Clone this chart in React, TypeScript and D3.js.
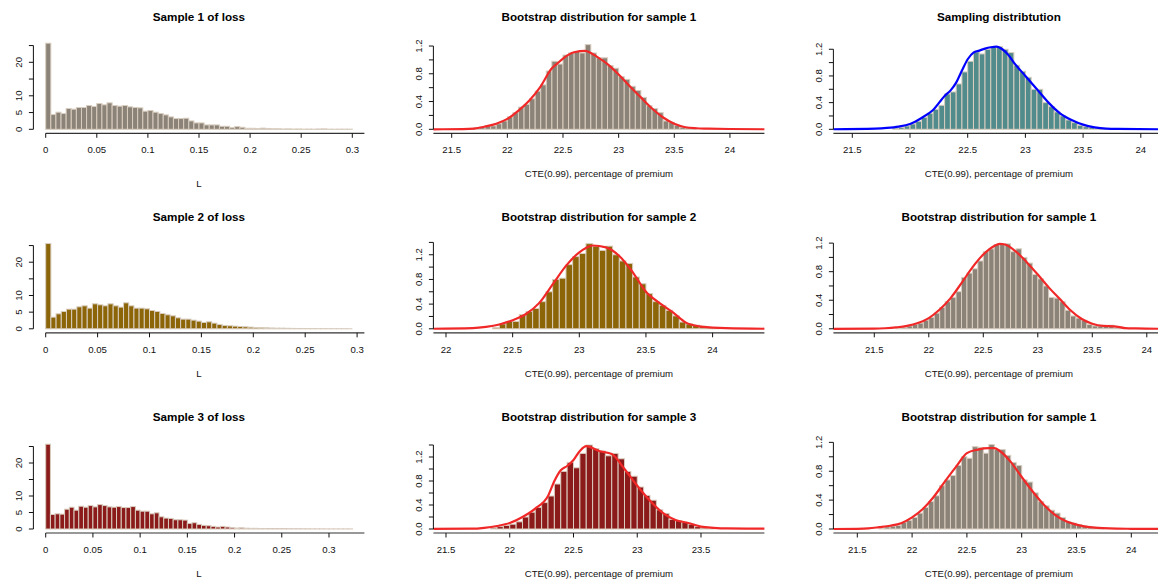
import React from "react";
import * as d3 from "d3";

// ---------- data ----------
// Loss samples: density per bin of width 0.005 starting at 0
const lossBinWidth = 0.005;
const lossSample1 = [
  25.7, 4.4, 5.1, 4.7, 6.2, 6.0, 6.5, 6.5, 7.1, 6.8,
  7.7, 7.3, 7.9, 7.1, 6.9, 7.1, 6.7, 6.5, 6.4, 5.4,
  5.6, 5.1, 4.7, 4.3, 3.7, 3.2, 3.2, 3.3, 2.5, 1.9,
  1.9, 1.3, 1.3, 1.3, 0.9, 0.9, 0.5, 0.8, 0.6, 0.3,
  0.3, 0.2, 0.35, 0.25, 0.15, 0.15, 0.1, 0.12, 0.08, 0.1,
  0.06, 0.08, 0.05, 0.1, 0.12, 0.05, 0.04, 0.06, 0.05, 0.05,
];
const lossSample2 = [
  25.6, 3.5, 4.5, 5.2, 5.9, 5.9, 6.6, 6.9, 6.2, 7.5,
  7.2, 6.9, 7.5, 6.9, 6.5, 7.8, 6.9, 6.2, 6.2, 6.0,
  5.5, 5.2, 4.6, 4.2, 3.9, 3.3, 2.9, 2.9, 2.6, 2.3,
  1.9, 2.1, 1.7, 1.3, 1.0, 0.9, 0.8, 0.7, 0.6, 0.5,
  0.4, 0.35, 0.3, 0.25, 0.2, 0.2, 0.15, 0.12, 0.1, 0.1,
  0.08, 0.06, 0.05, 0.05, 0.04, 0.03, 0.03, 0.03, 0.02,
];
const lossSample3 = [
  25.7, 4.4, 4.6, 4.5, 6.0, 6.6, 5.7, 6.9, 6.6, 7.1,
  6.7, 7.4, 7.1, 6.7, 6.6, 6.8, 6.5, 6.5, 6.8, 5.7,
  5.4, 5.4, 4.6, 4.9, 3.7, 3.3, 3.2, 2.8, 2.8, 2.7,
  1.7, 1.9, 1.4, 1.1, 1.0, 0.8, 0.6, 0.8, 0.6, 0.4,
  0.3, 0.35, 0.25, 0.2, 0.2, 0.15, 0.15, 0.1, 0.1, 0.08,
  0.08, 0.06, 0.05, 0.05, 0.04, 0.04, 0.03, 0.03, 0.03, 0.02,
  0.02, 0.02, 0.02, 0.02, 0.02,
];

// CTE histograms: density per bin of width 0.05
const cteBinWidth = 0.05;
const boot1Start = 21.65;
const boot1 = [
  0.01, 0.02, 0.03, 0.05, 0.05, 0.08, 0.12, 0.18, 0.24, 0.32,
  0.36, 0.44, 0.55, 0.64, 0.84, 0.98, 0.94, 1.07, 1.1, 1.12,
  1.1, 1.22, 1.1, 1.03, 1.03, 0.92, 0.88, 0.76, 0.72, 0.62,
  0.56, 0.46, 0.34, 0.3, 0.24, 0.12, 0.1, 0.06, 0.03, 0.02, 0.01,
];
const samplingStart = 21.85;
const sampling = [
  0.02, 0.03, 0.05, 0.08, 0.12, 0.18, 0.24, 0.3, 0.36, 0.53,
  0.56, 0.68, 0.86, 1.02, 1.16, 1.13, 1.2, 1.23, 1.24, 1.2,
  1.15, 0.96, 0.87, 0.78, 0.6, 0.6, 0.4, 0.34, 0.26, 0.2,
  0.14, 0.1, 0.06, 0.04, 0.03, 0.02, 0.01,
];
const boot2Start = 22.35;
const boot2 = [
  0.02, 0.08, 0.12, 0.12, 0.23, 0.28, 0.33, 0.44, 0.6, 0.8,
  0.82, 1.04, 1.17, 1.22, 1.38, 1.34, 1.27, 1.34, 1.2, 1.1,
  1.06, 0.84, 0.73, 0.57, 0.44, 0.38, 0.3, 0.21, 0.11, 0.08,
  0.06, 0.04, 0.02, 0.01,
];
const boot1bStart = 21.7;
const boot1b = [
  0.01, 0.02, 0.04, 0.06, 0.08, 0.12, 0.16, 0.22, 0.3, 0.38,
  0.44, 0.52, 0.72, 0.78, 0.84, 0.95, 1.08, 1.12, 1.18, 1.18,
  1.19, 1.08, 1.12, 1.0, 0.92, 0.76, 0.7, 0.6, 0.44, 0.43,
  0.38, 0.26, 0.18, 0.15, 0.12, 0.06, 0.04, 0.04, 0.04, 0.05,
  0.02, 0.01,
];
const boot3Start = 21.85;
const boot3 = [
  0.02, 0.04, 0.06, 0.08, 0.12, 0.2, 0.28, 0.36, 0.44, 0.55,
  0.75, 0.96, 1.11, 1.02, 1.26, 1.4, 1.34, 1.3, 1.22, 1.26,
  1.17, 0.96, 0.88, 0.7, 0.56, 0.48, 0.32, 0.26, 0.16, 0.14,
  0.11, 0.08, 0.04, 0.02, 0.01,
];
const boot1cStart = 21.7;
const boot1c = [
  0.01, 0.03, 0.04, 0.05, 0.09, 0.12, 0.16, 0.22, 0.3, 0.38,
  0.46, 0.6, 0.68, 0.74, 0.88, 1.0, 0.98, 1.14, 1.13, 1.05,
  1.17, 1.1, 1.1, 1.02, 0.92, 0.88, 0.68, 0.65, 0.5, 0.38,
  0.32, 0.26, 0.22, 0.16, 0.1, 0.08, 0.06, 0.04, 0.03, 0.02, 0.01,
];

// Density curves [x, density]
const dens1: [number, number][] = [
  [21.3, 0], [21.6, 0.003], [21.7, 0.01], [21.8, 0.04], [21.9, 0.08], [22.0, 0.15],
  [22.1, 0.27], [22.2, 0.42], [22.3, 0.62], [22.4, 0.88], [22.45, 0.95], [22.5, 1.02],
  [22.6, 1.11], [22.7, 1.13], [22.75, 1.1], [22.8, 1.05], [22.9, 0.94], [23.0, 0.79],
  [23.1, 0.62], [23.2, 0.46], [23.3, 0.3], [23.4, 0.17], [23.5, 0.08], [23.6, 0.03],
  [23.7, 0.015], [23.8, 0.01], [24.0, 0.004], [24.35, 0],
];
const densSampling: [number, number][] = [
  [21.3, 0], [21.7, 0.01], [21.8, 0.02], [21.9, 0.04], [22.0, 0.08], [22.1, 0.17],
  [22.2, 0.29], [22.3, 0.5], [22.35, 0.58], [22.4, 0.7], [22.45, 0.88], [22.5, 1.05],
  [22.55, 1.15], [22.6, 1.18], [22.65, 1.21], [22.7, 1.23], [22.75, 1.24], [22.8, 1.2],
  [22.85, 1.12], [22.9, 1.0], [23.0, 0.8], [23.1, 0.6], [23.2, 0.4], [23.3, 0.24],
  [23.4, 0.14], [23.5, 0.07], [23.6, 0.03], [23.7, 0.01], [23.8, 0.005], [24.25, 0],
];
const dens2: [number, number][] = [
  [21.85, 0], [22.2, 0.01], [22.3, 0.03], [22.4, 0.07], [22.5, 0.14], [22.6, 0.24],
  [22.7, 0.42], [22.8, 0.72], [22.9, 1.02], [23.0, 1.24], [23.05, 1.31], [23.1, 1.35],
  [23.2, 1.32], [23.3, 1.18], [23.4, 0.92], [23.5, 0.6], [23.6, 0.42], [23.7, 0.27],
  [23.8, 0.1], [23.9, 0.04], [24.0, 0.02], [24.1, 0.01], [24.45, 0],
];
const dens1b: [number, number][] = [
  [21.1, 0], [21.5, 0.002], [21.6, 0.008], [21.7, 0.02], [21.8, 0.04], [21.9, 0.08],
  [22.0, 0.15], [22.1, 0.27], [22.2, 0.43], [22.3, 0.64], [22.4, 0.86], [22.5, 1.04],
  [22.6, 1.16], [22.65, 1.19], [22.7, 1.18], [22.8, 1.08], [22.9, 0.93], [23.0, 0.76],
  [23.1, 0.58], [23.2, 0.42], [23.3, 0.26], [23.4, 0.14], [23.5, 0.07], [23.6, 0.04],
  [23.7, 0.035], [23.8, 0.01], [23.9, 0.005], [24.2, 0],
];
const dens3: [number, number][] = [
  [21.35, 0], [21.7, 0.005], [21.8, 0.02], [21.9, 0.05], [22.0, 0.1], [22.1, 0.2],
  [22.2, 0.34], [22.3, 0.55], [22.35, 0.8], [22.4, 0.98], [22.45, 1.05], [22.5, 1.15],
  [22.55, 1.3], [22.6, 1.38], [22.7, 1.3], [22.8, 1.25], [22.9, 1.0], [23.0, 0.72],
  [23.1, 0.47], [23.2, 0.27], [23.3, 0.15], [23.4, 0.1], [23.5, 0.04], [23.6, 0.02],
  [23.7, 0.01], [24.05, 0.005],
];
const dens1c: [number, number][] = [
  [21.25, 0], [21.5, 0.003], [21.6, 0.008], [21.7, 0.025], [21.8, 0.045], [21.9, 0.08],
  [22.0, 0.16], [22.1, 0.28], [22.2, 0.45], [22.3, 0.66], [22.4, 0.86], [22.5, 1.05],
  [22.6, 1.1], [22.7, 1.12], [22.75, 1.12], [22.8, 1.08], [22.9, 0.93], [23.0, 0.72],
  [23.1, 0.52], [23.2, 0.34], [23.3, 0.2], [23.4, 0.11], [23.5, 0.06], [23.6, 0.03],
  [23.7, 0.015], [23.8, 0.008], [24.0, 0.003], [24.35, 0],
];

// Tick values
const lossXTicks = [0, 0.05, 0.1, 0.15, 0.2, 0.25, 0.3];
const lossYTicks = [0, 5, 10, 15, 20, 25];
const lossYLabels = [0, 5, 10, 20];
const cteXTicksA = [21.5, 22, 22.5, 23, 23.5, 24];
const cteXTicksB = [22, 22.5, 23, 23.5, 24];
const cteXTicksC = [21.5, 22, 22.5, 23, 23.5];
const cteYTicks12 = [0, 0.2, 0.4, 0.6, 0.8, 1.0, 1.2];
const cteYTicks14 = [0, 0.2, 0.4, 0.6, 0.8, 1.0, 1.2, 1.4];
const cteYLabels = [0, 0.4, 0.8, 1.2];

// ---------- styling / layout ----------
const FONT = "'Liberation Sans', Arial, Helvetica, sans-serif";
const BORDER = "#D9CDBF";
const GRAY = "#8B8378";
const TEAL = "#528B8B";
const GOLD = "#8B6508";
const BRICK = "#8B1A1A";
const RED = "#F02828";
const BLUE = "#0000FF";
const ROW_AXIS = [133.3, 332.8, 533];
const CTE_LAB = "CTE(0.99), percentage of premium";

type PanelSpec = {
  row: number;
  col: number;
  title: string;
  xlab: string;
  fill: string;
  bins: number[];
  binStart: number;
  binWidth: number;
  density?: [number, number][];
  lineColor?: string;
  xDomain: [number, number];
  sy: number;
  xTicks: number[];
  yTicks: number[];
  yLabels: number[];
  yFmt: (v: number) => string;
  xlabOffset: number;
};

const fmtLoss = (v: number) => String(v);
const fmtCte = (v: number) => v.toFixed(1);

const panels: PanelSpec[] = [
  { row: 0, col: 0, title: "Sample 1 of loss", xlab: "L", fill: GRAY, bins: lossSample1, binStart: 0, binWidth: lossBinWidth,
    xDomain: [-0.01204, 0.31184], sy: 3.35, xTicks: lossXTicks, yTicks: lossYTicks, yLabels: lossYLabels, yFmt: fmtLoss, xlabOffset: 53.5 },
  { row: 1, col: 0, title: "Sample 2 of loss", xlab: "L", fill: GOLD, bins: lossSample2, binStart: 0, binWidth: lossBinWidth,
    xDomain: [-0.01185, 0.30703], sy: 3.33, xTicks: lossXTicks, yTicks: lossYTicks, yLabels: lossYLabels, yFmt: fmtLoss, xlabOffset: 44 },
  { row: 2, col: 0, title: "Sample 3 of loss", xlab: "L", fill: BRICK, bins: lossSample3, binStart: 0, binWidth: lossBinWidth,
    xDomain: [-0.01303, 0.3375], sy: 3.3, xTicks: lossXTicks, yTicks: lossYTicks, yLabels: lossYLabels, yFmt: fmtLoss, xlabOffset: 44 },
  { row: 0, col: 1, title: "Bootstrap distribution for sample 1", xlab: CTE_LAB, fill: GRAY, bins: boot1, binStart: boot1Start, binWidth: cteBinWidth,
    density: dens1, lineColor: RED, xDomain: [21.3356, 24.3096], sy: 69.4, xTicks: cteXTicksA, yTicks: cteYTicks12, yLabels: cteYLabels, yFmt: fmtCte, xlabOffset: 44 },
  { row: 1, col: 1, title: "Bootstrap distribution for sample 2", xlab: CTE_LAB, fill: GOLD, bins: boot2, binStart: boot2Start, binWidth: cteBinWidth,
    density: dens2, lineColor: RED, xDomain: [21.9055, 24.3886], sy: 61.7, xTicks: cteXTicksB, yTicks: cteYTicks14, yLabels: cteYLabels, yFmt: fmtCte, xlabOffset: 44 },
  { row: 2, col: 1, title: "Bootstrap distribution for sample 3", xlab: CTE_LAB, fill: BRICK, bins: boot3, binStart: boot3Start, binWidth: cteBinWidth,
    density: dens3, lineColor: RED, xDomain: [21.4012, 23.9973], sy: 60, xTicks: cteXTicksC, yTicks: cteYTicks14, yLabels: cteYLabels, yFmt: fmtCte, xlabOffset: 44 },
  { row: 0, col: 2, title: "Sampling distribtution", xlab: CTE_LAB, fill: TEAL, bins: sampling, binStart: samplingStart, binWidth: cteBinWidth,
    density: densSampling, lineColor: BLUE, xDomain: [21.3362, 24.2045], sy: 66.7, xTicks: cteXTicksA, yTicks: cteYTicks12, yLabels: cteYLabels, yFmt: fmtCte, xlabOffset: 44 },
  { row: 1, col: 2, title: "Bootstrap distribution for sample 1", xlab: CTE_LAB, fill: GRAY, bins: boot1b, binStart: boot1bStart, binWidth: cteBinWidth,
    density: dens1b, lineColor: RED, xDomain: [21.1248, 24.1615], sy: 71.4, xTicks: cteXTicksA, yTicks: cteYTicks12, yLabels: cteYLabels, yFmt: fmtCte, xlabOffset: 44 },
  { row: 2, col: 2, title: "Bootstrap distribution for sample 1", xlab: CTE_LAB, fill: GRAY, bins: boot1c, binStart: boot1cStart, binWidth: cteBinWidth,
    density: dens1c, lineColor: RED, xDomain: [21.2819, 24.302], sy: 72.2, xTicks: cteXTicksA, yTicks: cteYTicks12, yLabels: cteYLabels, yFmt: fmtCte, xlabOffset: 44 },
];

function Panel({ p, idx }: { p: PanelSpec; idx: number }) {
  const left = 33.4 + 400 * p.col;
  const right = left + 331;
  const axisY = ROW_AXIS[p.row];
  const y0 = axisY - 4;
  const x = d3.scaleLinear().domain(p.xDomain).range([left, right]);
  const y = d3.scaleLinear().domain([0, 1]).range([y0, y0 - p.sy]);
  const line = d3
    .line<[number, number]>()
    .x((d) => x(d[0]))
    .y((d) => y(d[1]))
    .curve(d3.curveMonotoneX);
  const clipId = `clip-${idx}`;
  const xLineStart = p.col === 0 ? x(0) : left;
  const yTop = p.yTicks[p.yTicks.length - 1];
  const tick = 4.5;
  const fs = 9.6;
  return (
    <g>
      <defs>
        <clipPath id={clipId}>
          <rect x={left} y={axisY - 110} width={right - left} height={110} />
        </clipPath>
      </defs>
      <text x={(left + right) / 2} y={axisY - 112} textAnchor="middle" fontWeight="bold" fontSize={11.7} fontFamily={FONT} fill="#000">
        {p.title}
      </text>
      <g clipPath={`url(#${clipId})`}>
        {p.bins.map((v, i) => {
          const a = p.binStart + i * p.binWidth;
          const b = a + p.binWidth;
          return (
            <rect
              key={i}
              x={x(a)}
              y={y(v)}
              width={x(b) - x(a)}
              height={Math.max(0, y(0) - y(v))}
              fill={p.fill}
              stroke={BORDER}
              strokeWidth={1}
            />
          );
        })}
        {p.density && (
          <path d={line(p.density) || ""} fill="none" stroke={p.lineColor} strokeWidth={2.2} strokeLinejoin="round" />
        )}
      </g>
      {/* y axis */}
      <line x1={left} x2={left} y1={y(0)} y2={y(yTop)} stroke="#111" strokeWidth={1} />
      {p.yTicks.map((t) => (
        <line key={t} x1={left - tick} x2={left} y1={y(t)} y2={y(t)} stroke="#111" strokeWidth={1} />
      ))}
      {p.yLabels.map((t) => (
        <text
          key={t}
          transform={`translate(${left - 11.5},${y(t)}) rotate(-90)`}
          textAnchor="middle"
          fontSize={fs}
          fontFamily={FONT}
          fill="#111"
        >
          {p.yFmt(t)}
        </text>
      ))}
      {/* x axis */}
      <line x1={xLineStart} x2={right} y1={axisY} y2={axisY} stroke="#333" strokeWidth={1.2} />
      {p.xTicks.map((t) => (
        <g key={t}>
          <line x1={x(t)} x2={x(t)} y1={axisY} y2={axisY + tick} stroke="#111" strokeWidth={1} />
          <text x={x(t)} y={axisY + 20} textAnchor="middle" fontSize={fs} fontFamily={FONT} fill="#111">
            {String(+t.toFixed(3))}
          </text>
        </g>
      ))}
      <text x={(left + right) / 2} y={axisY + p.xlabOffset} textAnchor="middle" fontSize={fs} fontFamily={FONT} fill="#111">
        {p.xlab}
      </text>
    </g>
  );
}

export default function App() {
  return (
    <svg
      width={1158}
      height={582}
      viewBox="0 0 1158 582"
      style={{ position: "absolute", left: 0, top: 0, background: "#fff" }}
    >
      <rect x={0} y={0} width={1158} height={582} fill="#fff" />
      {panels.map((p, i) => (
        <Panel key={i} p={p} idx={i} />
      ))}
    </svg>
  );
}
